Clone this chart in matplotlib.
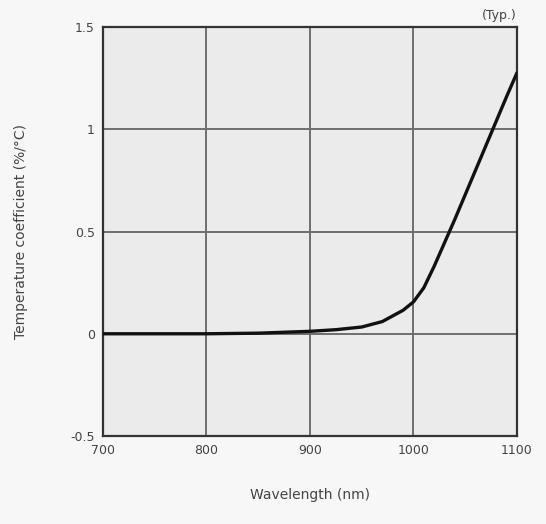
import matplotlib
matplotlib.use("Agg")
import matplotlib.pyplot as plt

# values
wavelength = [700, 750, 800, 850, 900, 925, 950, 970, 990, 1000,
              1010, 1020, 1030, 1040, 1050, 1060, 1070, 1080, 1090, 1100]
temp_coef = [0.0, 0.0, 0.0, 0.003, 0.012, 0.02, 0.033, 0.06, 0.115, 0.156,
             0.225, 0.33, 0.445, 0.56, 0.68, 0.80, 0.92, 1.04, 1.16, 1.276]

x_ticks = [700, 800, 900, 1000, 1100]
x_labels = ["700", "800", "900", "1000", "1100"]
y_ticks = [-0.5, 0, 0.5, 1, 1.5]
y_labels = ["-0.5", "0", "0.5", "1", "1.5"]

fig = plt.figure(figsize=(5.46, 5.24), dpi=100, facecolor="#f7f7f7")
ax = fig.add_axes([0.1886, 0.1679, 0.7582, 0.7805], facecolor="#ebebeb")

ax.plot(wavelength, temp_coef, color="#111111", lw=2.4, zorder=3,
        solid_joinstyle="round", solid_capstyle="round")

ax.set_xlim(700, 1100)
ax.set_ylim(-0.5, 1.5)
ax.set_xticks(x_ticks)
ax.set_xticklabels(x_labels)
ax.set_yticks(y_ticks)
ax.set_yticklabels(y_labels)
ax.tick_params(length=0, labelsize=9, colors="#444444", pad=6)
ax.grid(True, color="#6e6e6e", lw=1.4)
ax.set_axisbelow(True)
for s in ax.spines.values():
    s.set_color("#333333")
    s.set_linewidth(1.6)

ax.set_xlabel("Wavelength (nm)", fontsize=10, color="#444444", labelpad=22)
ax.set_ylabel("Temperature coefficient (%/°C)", fontsize=10, color="#444444", labelpad=30)
ax.text(1.0, 1.012, "(Typ.)", transform=ax.transAxes, ha="right", va="bottom",
        fontsize=9, color="#444444")

fig.savefig("out.png", dpi=100, facecolor=fig.get_facecolor())
